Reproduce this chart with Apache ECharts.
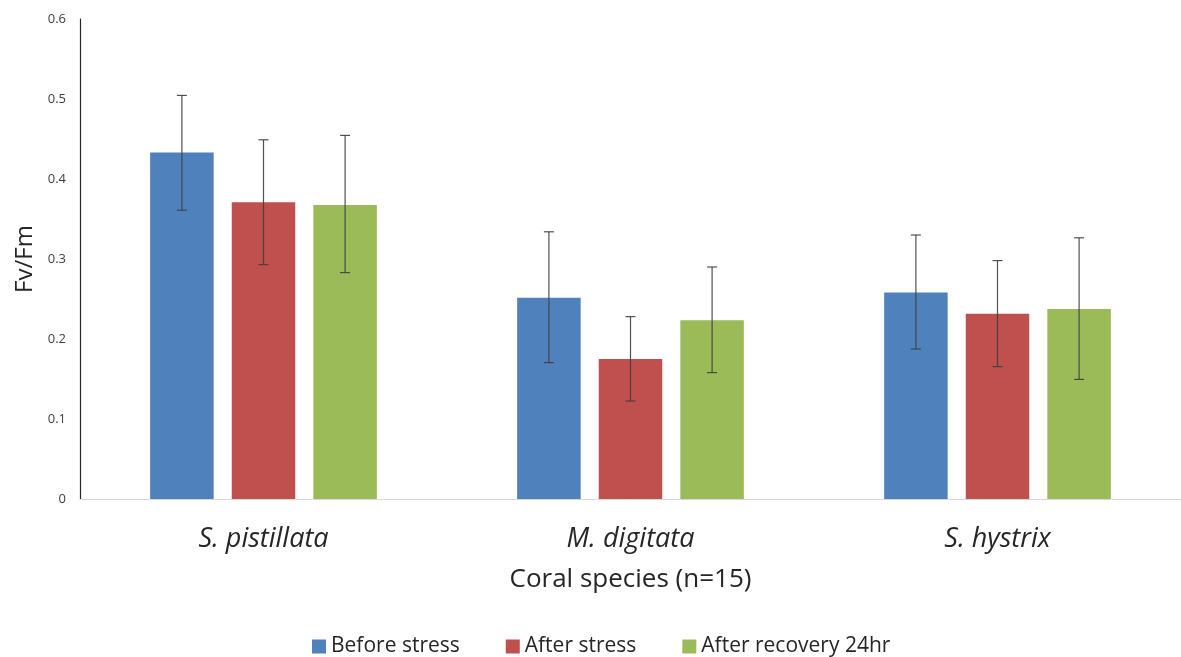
<!DOCTYPE html>
<html>
<head>
<meta charset="utf-8">
<script src="https://cdn.jsdelivr.net/npm/echarts@6/dist/echarts.min.js"></script>
<style>
html,body{margin:0;padding:0;background:#fff;}
#chart{width:1181px;height:657px;}
</style>
</head>
<body>
<div id="chart"></div>
<script>
const categories = ['S. pistillata', 'M. digitata', 'S. hystrix'];
const seriesNames = ['Before stress', 'After stress', 'After recovery 24hr'];
const beforeStress = [0.433, 0.2515, 0.258];
const afterStress = [0.371, 0.175, 0.2315];
const afterRecovery = [0.3675, 0.2235, 0.2375];
const beforeErrLow = [0.361, 0.1705, 0.1875];
const beforeErrHigh = [0.5045, 0.334, 0.330];
const afterErrLow = [0.293, 0.1225, 0.1655];
const afterErrHigh = [0.449, 0.228, 0.298];
const recoveryErrLow = [0.283, 0.158, 0.1495];
const recoveryErrHigh = [0.4545, 0.290, 0.3265];
const yTicks = [0, 0.1, 0.2, 0.3, 0.4, 0.5, 0.6];

const colors = ['#4F81BD', '#C0504D', '#9BBB59'];
const FONT = '"Open Sans"';
const BAR_W = 63.5;
const BAR_STEP = 81.6;

const values = [beforeStress, afterStress, afterRecovery];
const errs = [[beforeErrLow, beforeErrHigh], [afterErrLow, afterErrHigh], [recoveryErrLow, recoveryErrHigh]];

const chart = echarts.init(document.getElementById('chart'), null, {renderer: 'canvas'});

const barSeries = seriesNames.map((n, i) => ({
  name: n,
  type: 'bar',
  data: values[i],
  barWidth: BAR_W,
  barGap: ((BAR_STEP - BAR_W) / BAR_W * 100).toFixed(1) + '%',
  itemStyle: {color: colors[i]},
  z: 2
}));

const errSeries = seriesNames.map((n, si) => ({
  type: 'custom',
  name: n + ' err',
  z: 5,
  silent: true,
  data: categories.map((c, ci) => [ci, errs[si][0][ci], errs[si][1][ci]]),
  renderItem: function (params, api) {
    const ci = api.value(0);
    const lo = api.coord([ci, api.value(1)]);
    const hi = api.coord([ci, api.value(2)]);
    const x = lo[0] + (si - 1) * BAR_STEP;
    const cap = 5;
    const style = {stroke: '#3f3f3f', lineWidth: 1.2, opacity: 0.9};
    return {
      type: 'group',
      children: [
        {type: 'line', shape: {x1: x, y1: lo[1], x2: x, y2: hi[1]}, style: style},
        {type: 'line', shape: {x1: x - cap, y1: lo[1], x2: x + cap, y2: lo[1]}, style: style},
        {type: 'line', shape: {x1: x - cap, y1: hi[1], x2: x + cap, y2: hi[1]}, style: style}
      ]
    };
  },
  encode: {x: 0, y: [1, 2]}
}));

chart.setOption({
  animation: false,
  backgroundColor: '#ffffff',
  textStyle: {fontFamily: FONT},
  grid: {left: 80, top: 19, width: 1104, height: 480},
  legend: {
    data: seriesNames,
    left: 307,
    top: 631,
    itemWidth: 14,
    itemHeight: 14,
    itemGap: 46,
    icon: 'rect',
    textStyle: {fontFamily: FONT, fontSize: 21, color: '#262626'}
  },
  xAxis: {
    type: 'category',
    data: categories,
    name: 'Coral species (n=15)',
    nameLocation: 'middle',
    nameGap: 68,
    nameTextStyle: {fontFamily: FONT, fontSize: 26, color: '#262626'},
    axisLine: {lineStyle: {color: '#d9d9d9', width: 1}},
    axisTick: {show: false},
    axisLabel: {fontFamily: FONT, fontSize: 27, fontStyle: 'italic', color: '#262626', margin: 27}
  },
  yAxis: {
    type: 'value',
    min: yTicks[0],
    max: yTicks[yTicks.length - 1],
    interval: 0.1,
    name: 'Fv/Fm',
    nameLocation: 'middle',
    nameGap: 38,
    nameTextStyle: {fontFamily: FONT, fontSize: 24, color: '#262626'},
    axisLine: {show: true, lineStyle: {color: '#262626', width: 1.2}},
    axisTick: {show: false},
    splitLine: {show: false},
    axisLabel: {fontFamily: FONT, fontSize: 13, color: '#404040', margin: 14,
      formatter: v => (v === 0 ? '0' : v.toFixed(1))}
  },
  series: barSeries.concat(errSeries)
});
</script>
</body>
</html>
